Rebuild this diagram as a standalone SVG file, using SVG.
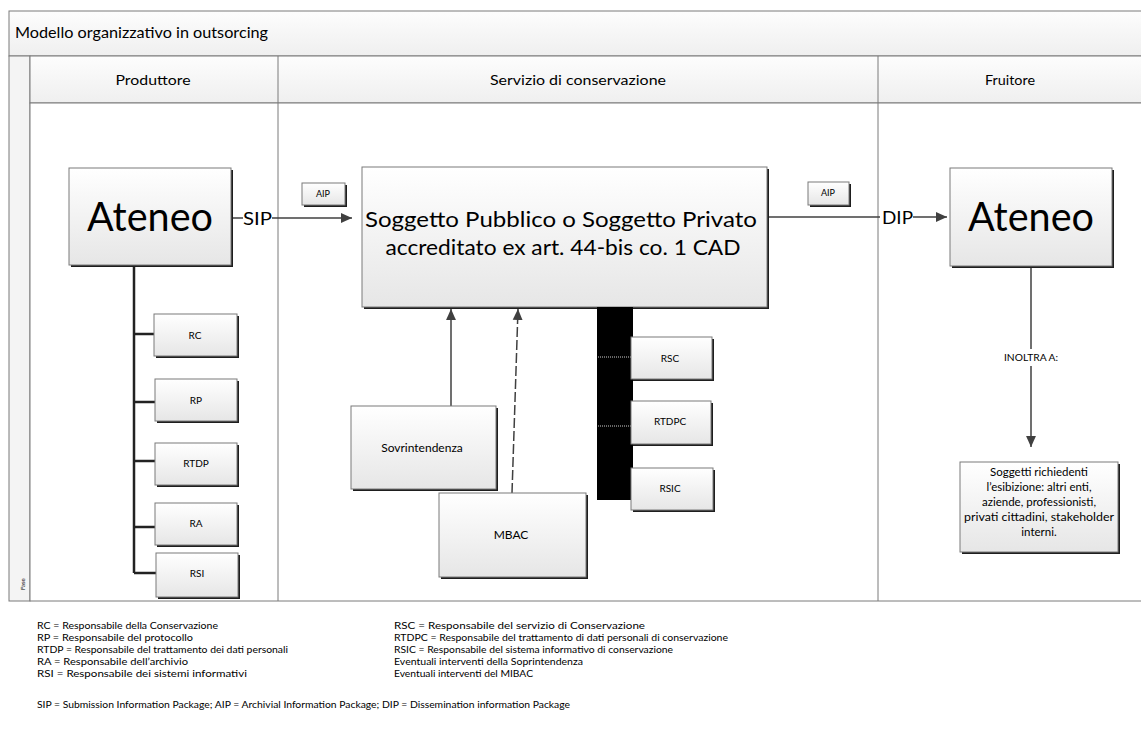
<svg xmlns="http://www.w3.org/2000/svg" width="1141" height="729" viewBox="0 0 1141 729">
<defs>
<linearGradient id="g" x1="0" y1="0" x2="0" y2="1"><stop offset="0" stop-color="#ffffff"/><stop offset="1" stop-color="#e6e6e6"/></linearGradient>
<linearGradient id="hg" x1="0" y1="0" x2="0" y2="1"><stop offset="0" stop-color="#fdfdfd"/><stop offset="1" stop-color="#efefef"/></linearGradient>
<marker id="arr" viewBox="0 0 10 10" refX="10" refY="5" markerWidth="11" markerHeight="11" markerUnits="userSpaceOnUse" orient="auto"><path d="M0,0.5 L10,5 L0,9.5 z" fill="#404040"/></marker>
</defs>
<style>
.box{fill:url(#g);stroke:#7a7a7a;stroke-width:1}
.sh{fill:#1e1e1e}
.t{font-family:Lato,"Liberation Sans",sans-serif;fill:#000}
.c{text-anchor:middle}
.ln{stroke:#404040;stroke-width:1.5;fill:none}
.org{stroke:#222;stroke-width:2.5;fill:none}
.lane{fill:none;stroke:#7a7a7a;stroke-width:1}
.leg{font-family:Lato,"Liberation Sans",sans-serif;font-size:10px;fill:#000}
</style>
<rect width="1141" height="729" fill="#ffffff"/>
<g id="pool">
<rect x="9" y="11" width="1140" height="45" fill="url(#hg)" stroke="#7a7a7a"/>
<text class="t" x="15" y="38" font-size="15" textLength="253" lengthAdjust="spacingAndGlyphs">Modello organizzativo in outsorcing</text>
<rect x="9" y="56" width="21" height="545" fill="#f4f4f4" stroke="#7a7a7a"/>
<rect x="30" y="56" width="1120" height="47" fill="url(#hg)" stroke="#7a7a7a"/>
<rect x="30" y="103" width="1120" height="498" fill="#ffffff" stroke="#7a7a7a"/>
<line x1="278" y1="56" x2="278" y2="601" class="lane"/>
<line x1="878" y1="56" x2="878" y2="601" class="lane"/>
<text class="t c" x="153" y="85" font-size="14" textLength="75" lengthAdjust="spacingAndGlyphs">Produttore</text>
<text class="t c" x="578" y="85" font-size="14" textLength="176" lengthAdjust="spacingAndGlyphs">Servizio di conservazione</text>
<text class="t c" x="1010" y="85" font-size="14" textLength="50" lengthAdjust="spacingAndGlyphs">Fruitore</text>
<text class="t" x="0" y="0" font-size="6" transform="translate(25,590) rotate(-90)">Fase</text>
</g>
<g id="connectors">
<line x1="231" y1="218" x2="243" y2="218" class="ln"/>
<line x1="272" y1="218" x2="352" y2="218" class="ln" marker-end="url(#arr)"/>
<line x1="767" y1="217" x2="880" y2="217" class="ln"/>
<line x1="913" y1="217" x2="947" y2="217" class="ln" marker-end="url(#arr)"/>
<line x1="1031" y1="266" x2="1031" y2="349" class="ln"/>
<line x1="1031" y1="366" x2="1031" y2="447" class="ln" marker-end="url(#arr)"/>
<line x1="451" y1="406" x2="451" y2="309" class="ln" marker-end="url(#arr)"/>
<line x1="512" y1="493" x2="518" y2="309" class="ln" stroke-dasharray="10,3" marker-end="url(#arr)"/>
<path d="M134,266 V573 M134,334 H155 M134,402 H155 M134,461 H155 M134,527 H155 M134,573 H156" class="org"/>
<text class="t" x="243" y="225" font-size="18" textLength="29" lengthAdjust="spacingAndGlyphs">SIP</text>
<text class="t" x="882" y="224" font-size="18" textLength="31" lengthAdjust="spacingAndGlyphs">DIP</text>
<text class="t c" x="1031" y="361" font-size="10" textLength="54" lengthAdjust="spacingAndGlyphs">INOLTRA A:</text>
</g>
<g id="aip-left">
<rect x="304" y="185" width="43" height="22" class="sh"/>
<rect x="302" y="183" width="43" height="22" class="box"/>
<text class="t c" x="323" y="197" font-size="9">AIP</text>
</g>
<g id="aip-right">
<rect x="810" y="184" width="41" height="23" class="sh"/>
<rect x="808" y="182" width="41" height="23" class="box"/>
<text class="t c" x="828" y="196" font-size="9">AIP</text>
</g>
<g id="ateneo-prod">
<rect x="71" y="170" width="162" height="97" class="sh"/>
<rect x="69" y="168" width="162" height="97" class="box"/>
<text class="t c" x="150" y="231" font-size="40" textLength="126" lengthAdjust="spacingAndGlyphs">Ateneo</text>
</g>
<g id="soggetto">
<rect x="364" y="169" width="405" height="140" class="sh"/>
<rect x="362" y="167" width="405" height="140" class="box"/>
<text class="t c" x="561" y="227" font-size="22" textLength="392" lengthAdjust="spacingAndGlyphs">Soggetto Pubblico o Soggetto Privato</text>
<text class="t c" x="563" y="255" font-size="22" textLength="355" lengthAdjust="spacingAndGlyphs">accreditato ex art. 44-bis co. 1 CAD</text>
</g>
<g id="ateneo-fruit">
<rect x="952" y="170" width="162" height="98" class="sh"/>
<rect x="950" y="168" width="162" height="98" class="box"/>
<text class="t c" x="1031" y="231" font-size="40" textLength="126" lengthAdjust="spacingAndGlyphs">Ateneo</text>
</g>
<g id="rc"><rect x="156" y="316" width="83" height="42" class="sh"/><rect x="154" y="314" width="83" height="42" class="box"/><text class="t c" x="195" y="339" font-size="10">RC</text></g>
<g id="rp"><rect x="157" y="381" width="82" height="42" class="sh"/><rect x="155" y="379" width="82" height="42" class="box"/><text class="t c" x="196" y="404" font-size="10">RP</text></g>
<g id="rtdp"><rect x="157" y="445" width="82" height="42" class="sh"/><rect x="155" y="443" width="82" height="42" class="box"/><text class="t c" x="196" y="467" font-size="10">RTDP</text></g>
<g id="ra"><rect x="157" y="505" width="82" height="42" class="sh"/><rect x="155" y="503" width="82" height="42" class="box"/><text class="t c" x="196" y="527" font-size="10">RA</text></g>
<g id="rsi"><rect x="158" y="555" width="82" height="44" class="sh"/><rect x="156" y="553" width="82" height="44" class="box"/><text class="t c" x="197" y="577" font-size="10">RSI</text></g>
<g id="bar">
<rect x="597" y="307" width="36" height="193" fill="#000"/>
<line x1="598" y1="357" x2="632" y2="357" stroke="#cfcfcf" stroke-width="1" stroke-dasharray="1,1"/>
<line x1="598" y1="426" x2="632" y2="426" stroke="#cfcfcf" stroke-width="1" stroke-dasharray="1,1"/>
</g>
<g id="rsc"><rect x="633" y="339" width="81" height="42" class="sh"/><rect x="631" y="337" width="81" height="42" class="box"/><text class="t c" x="670" y="362" font-size="10">RSC</text></g>
<g id="rtdpc"><rect x="633" y="403" width="80" height="43" class="sh"/><rect x="631" y="401" width="80" height="43" class="box"/><text class="t c" x="670" y="425" font-size="10">RTDPC</text></g>
<g id="rsic"><rect x="633" y="470" width="82" height="42" class="sh"/><rect x="631" y="468" width="82" height="42" class="box"/><text class="t c" x="670" y="492" font-size="10">RSIC</text></g>
<g id="sovrintendenza"><rect x="353" y="408" width="145" height="83" class="sh"/><rect x="351" y="406" width="145" height="83" class="box"/><text class="t c" x="422" y="452" font-size="12">Sovrintendenza</text></g>
<g id="mbac"><rect x="441" y="495" width="147" height="84" class="sh"/><rect x="439" y="493" width="147" height="84" class="box"/><text class="t c" x="511" y="539" font-size="12">MBAC</text></g>
<g id="soggetti-richiedenti">
<rect x="962" y="464" width="158" height="90" class="sh"/>
<rect x="960" y="462" width="158" height="90" class="box"/>
<text class="t c" font-size="11.5"><tspan x="1039" y="476">Soggetti richiedenti</tspan><tspan x="1039" y="491">l’esibizione: altri enti,</tspan><tspan x="1039" y="506">aziende, professionisti,</tspan><tspan x="1039" y="521" textLength="150" lengthAdjust="spacingAndGlyphs">privati cittadini, stakeholder</tspan><tspan x="1039" y="536">interni.</tspan></text>
</g>
<g id="legend">
<text class="leg" x="37" y="629" textLength="181" lengthAdjust="spacingAndGlyphs">RC = Responsabile della Conservazione</text>
<text class="leg" x="37" y="641" textLength="156" lengthAdjust="spacingAndGlyphs">RP = Responsabile del protocollo</text>
<text class="leg" x="37" y="653" textLength="251" lengthAdjust="spacingAndGlyphs">RTDP = Responsabile del trattamento dei dati personali</text>
<text class="leg" x="37" y="665" textLength="151" lengthAdjust="spacingAndGlyphs">RA = Responsabile dell’archivio</text>
<text class="leg" x="37" y="677" textLength="210" lengthAdjust="spacingAndGlyphs">RSI = Responsabile dei sistemi informativi</text>
<text class="leg" x="394" y="629" textLength="251" lengthAdjust="spacingAndGlyphs">RSC = Responsabile del servizio di Conservazione</text>
<text class="leg" x="394" y="641" textLength="334" lengthAdjust="spacingAndGlyphs">RTDPC = Responsabile del trattamento di dati personali di conservazione</text>
<text class="leg" x="394" y="653" textLength="279" lengthAdjust="spacingAndGlyphs">RSIC = Responsabile del sistema informativo di conservazione</text>
<text class="leg" x="394" y="665" textLength="189" lengthAdjust="spacingAndGlyphs">Eventuali interventi della Soprintendenza</text>
<text class="leg" x="394" y="677" textLength="139" lengthAdjust="spacingAndGlyphs">Eventuali interventi del MIBAC</text>
<text class="leg" x="37" y="708" textLength="533" lengthAdjust="spacingAndGlyphs">SIP = Submission Information Package; AIP = Archivial Information Package; DIP = Dissemination information Package</text>
</g>
</svg>
